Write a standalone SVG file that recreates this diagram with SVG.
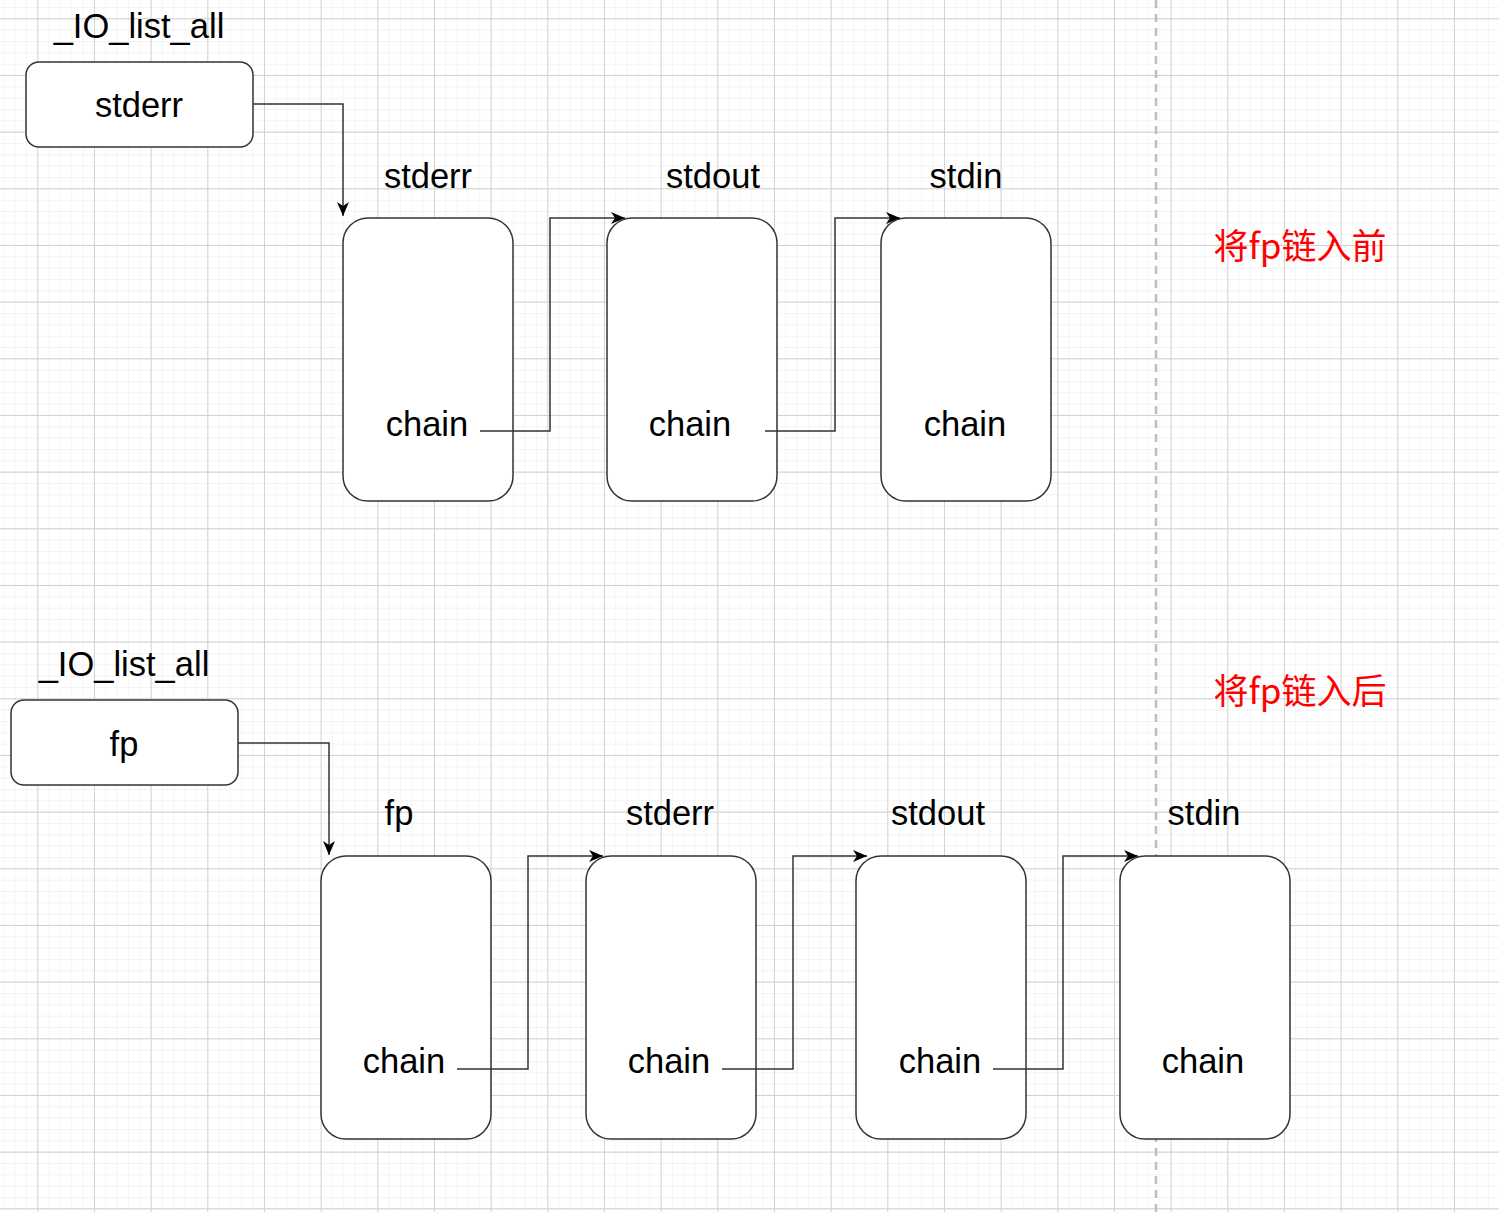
<svg xmlns="http://www.w3.org/2000/svg" width="1499" height="1212" viewBox="0 0 1499 1212">
<style>
.box{fill:#fff;stroke:#333;stroke-width:1.5}
.t{font-family:"Liberation Sans",Arial,sans-serif;font-size:34.5px;fill:#000;text-anchor:middle}
.cn{font-family:"Noto Sans CJK SC",sans-serif;font-size:35px;fill:#ff0000;text-anchor:middle}
.c{fill:none;stroke:#333;stroke-width:1.5}
</style>
<defs>
<pattern id="minor" width="11.333" height="11.333" patternUnits="userSpaceOnUse" x="37.3" y="18.3">
<path d="M0 0H11.333M0 0V11.333" fill="none" stroke="#efefef" stroke-width="1.2"/>
</pattern>
<pattern id="major" width="56.667" height="56.667" patternUnits="userSpaceOnUse" x="37.3" y="18.3">
<path d="M0 0H56.667M0 0V56.667" fill="none" stroke="#d0d0d0" stroke-width="1.8"/>
</pattern>
<marker id="arr" markerWidth="16" markerHeight="12" refX="14" refY="6" orient="auto" markerUnits="userSpaceOnUse">
<path d="M0 0L14 6L0 12L4 6Z" fill="#000"/>
</marker>
</defs>
<rect width="1499" height="1212" fill="#fff"/>
<rect width="1499" height="1212" fill="url(#minor)"/>
<rect width="1499" height="1212" fill="url(#major)"/>
<line x1="1156" y1="0" x2="1156" y2="1212" stroke="#bdbdbd" stroke-width="2.5" stroke-dasharray="8 6"/>
<g id="labels">
<text class="t" x="139" y="38">_IO_list_all</text>
<text class="t" x="428" y="188">stderr</text>
<text class="t" x="713" y="188">stdout</text>
<text class="t" x="966" y="188">stdin</text>
<text class="t" x="124" y="676">_IO_list_all</text>
<text class="t" x="399" y="825">fp</text>
<text class="t" x="670" y="825">stderr</text>
<text class="t" x="938" y="825">stdout</text>
<text class="t" x="1204" y="825">stdin</text>
<text class="cn" x="1300" y="259">将fp链入前</text>
<text class="cn" x="1300" y="704">将fp链入后</text>
</g>
<g id="head1"><rect class="box" x="26" y="62" width="227" height="85" rx="13"/><text class="t" x="139" y="117">stderr</text></g>
<g id="a1"><rect class="box" x="343" y="218" width="170" height="283" rx="25"/><text class="t" x="427" y="436">chain</text></g>
<g id="a2"><rect class="box" x="607" y="218" width="170" height="283" rx="25"/><text class="t" x="690" y="436">chain</text></g>
<g id="a3"><rect class="box" x="881" y="218" width="170" height="283" rx="25"/><text class="t" x="965" y="436">chain</text></g>
<g id="head2"><rect class="box" x="11" y="700" width="227" height="85" rx="13"/><text class="t" x="124" y="756">fp</text></g>
<g id="b1"><rect class="box" x="321" y="856" width="170" height="283" rx="25"/><text class="t" x="404" y="1073">chain</text></g>
<g id="b2"><rect class="box" x="586" y="856" width="170" height="283" rx="25"/><text class="t" x="669" y="1073">chain</text></g>
<g id="b3"><rect class="box" x="856" y="856" width="170" height="283" rx="25"/><text class="t" x="940" y="1073">chain</text></g>
<g id="b4"><rect class="box" x="1120" y="856" width="170" height="283" rx="25"/><text class="t" x="1203" y="1073">chain</text></g>
<g id="connectors">
<path class="c" d="M253 104H343V216" marker-end="url(#arr)"/>
<path class="c" d="M480 431H550V218H625" marker-end="url(#arr)"/>
<path class="c" d="M765 431H835V218H900" marker-end="url(#arr)"/>
<path class="c" d="M238 743H329V855" marker-end="url(#arr)"/>
<path class="c" d="M457 1069H528V856H603" marker-end="url(#arr)"/>
<path class="c" d="M722 1069H793V856H867" marker-end="url(#arr)"/>
<path class="c" d="M993 1069H1063V856H1138" marker-end="url(#arr)"/>
</g>
</svg>
